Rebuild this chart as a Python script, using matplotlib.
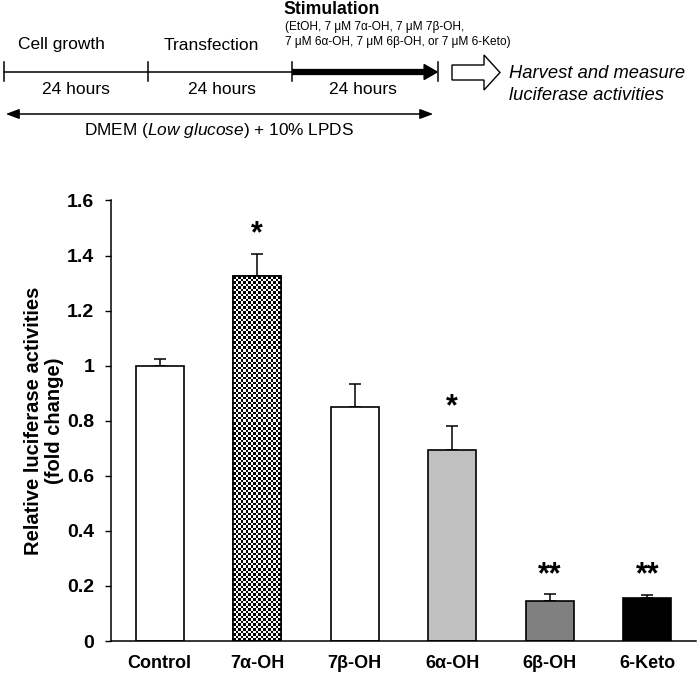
import numpy as np
import matplotlib
matplotlib.use('Agg')
import matplotlib.pyplot as plt
from matplotlib.patches import FancyArrow, FancyArrowPatch

plt.rcParams['font.family'] = ['Liberation Sans', 'DejaVu Sans']
plt.rcParams['mathtext.fontset'] = 'custom'
plt.rcParams['mathtext.rm'] = 'Liberation Sans'
plt.rcParams['mathtext.it'] = 'Liberation Sans:italic'

# data
groups = ['Control', '7\u03b1-OH', '7\u03b2-OH', '6\u03b1-OH', '6\u03b2-OH', '6-Keto']
values = [1.00, 1.325, 0.85, 0.695, 0.147, 0.155]
errors = [0.025, 0.082, 0.085, 0.085, 0.023, 0.013]
stars = ['', '*', '', '*', '**', '**']
fills = ['white', 'checker', 'white', '#c0c0c0', '#808080', 'black']
yticks = [0, 0.2, 0.4, 0.6, 0.8, 1.0, 1.2, 1.4, 1.6]
ytick_labels = ['0', '0.2', '0.4', '0.6', '0.8', '1', '1.2', '1.4', '1.6']

W, H = 697, 677
fig = plt.figure(figsize=(W / 100, H / 100), dpi=100)

# ---- bar chart ----
ax = fig.add_axes([111 / W, (H - 641) / H, 585 / W, 440.5 / H])
x = np.arange(len(groups))
bars = ax.bar(x, values, width=0.49, color=[c if c != 'checker' else 'white' for c in fills],
              edgecolor='black', linewidth=1.2, zorder=2)
ax.errorbar(x, values, yerr=[[0] * len(values), errors], fmt='none', ecolor='black',
            elinewidth=1.1, capsize=4, capthick=1.1, zorder=1)

# checkerboard fill for 7a-OH
for b, f in zip(bars, fills):
    if f == 'checker':
        n = 19
        ny = int(round(n * b.get_height() / 1.6 * 440.5 / (b.get_width() / 6 * 585)))
        board = (np.indices((ny, n)).sum(axis=0) % 2).astype(float)
        im = ax.imshow(board, cmap='gray', interpolation='nearest', aspect='auto',
                       extent=[b.get_x(), b.get_x() + b.get_width(), 0, b.get_height()],
                       zorder=2.5)
        im.set_clip_path(b)
        ax.bar(b.get_x() + b.get_width() / 2, b.get_height(), width=b.get_width(),
               fill=False, edgecolor='black', linewidth=1.2, zorder=3)

for xi, v, e, s in zip(x, values, errors, stars):
    if s:
        ax.annotate(s, (xi, v + e), xytext=(0, 8), textcoords='offset points',
                    ha='center', va='baseline', fontsize=22, fontweight='bold')

ax.set_xlim(-0.5, 5.5)
ax.set_ylim(0, 1.6)
ax.set_yticks(yticks)
ax.set_yticklabels(ytick_labels)
ax.set_xticks(x)
ax.set_xticklabels(groups)
for lab in ax.get_xticklabels():
    lab.set_fontweight('bold')
    lab.set_fontsize(13)
for lab in ax.get_yticklabels():
    lab.set_fontweight('bold')
    lab.set_fontsize(14)
ax.tick_params(axis='x', length=0, pad=10)
ax.tick_params(axis='y', direction='out', length=4, width=1, pad=8)
ax.spines['top'].set_visible(False)
ax.spines['right'].set_visible(False)
ax.spines['left'].set_linewidth(1.1)
ax.spines['bottom'].set_linewidth(1.1)
ax.set_ylabel('Relative luciferase activities\n(fold change)', fontsize=14.5,
              fontweight='bold', linespacing=1.1)
ax.yaxis.set_label_coords(-(111 - 64) / 585, 0.5)

# ---- timeline overlay (pixel coordinates) ----
tl = fig.add_axes([0, 0, 1, 1], facecolor='none')
tl.set_xlim(0, W)
tl.set_ylim(H, 0)
tl.axis('off')

tl.plot([4, 292], [72, 72], color='black', lw=1.1)
tl.plot([292, 426], [72, 72], color='black', lw=4.5, solid_capstyle='butt')
tl.add_patch(FancyArrow(424, 72, 0.1, 0, width=0, head_width=15, head_length=13,
                        length_includes_head=False, color='black'))
for tx in [4, 148, 292, 438]:
    tl.plot([tx, tx], [62, 81], color='black', lw=1.1)

tl.text(61, 45, 'Cell growth', ha='center', va='center', fontsize=12.5)
tl.text(211, 45, 'Transfection', ha='center', va='center', fontsize=12.5)
tl.text(283, 9, 'Stimulation', ha='left', va='center', fontsize=12.7, fontweight='bold')
tl.text(285, 27, '(EtOH, 7 \u03bcM 7\u03b1-OH, 7 \u03bcM 7\u03b2-OH,', ha='left', va='center',
        fontsize=8.6)
tl.text(285, 42, '7 \u03bcM 6\u03b1-OH, 7 \u03bcM 6\u03b2-OH, or 7 \u03bcM 6-Keto)', ha='left',
        va='center', fontsize=8.6)
for cx in [76, 222, 363]:
    tl.text(cx, 89, '24 hours', ha='center', va='center', fontsize=12.5)

tl.add_patch(FancyArrowPatch((3, 114), (436, 114), arrowstyle='<|-|>,head_length=8,head_width=3',
                             color='black', lw=1.1, mutation_scale=1))
tl.text(219, 130, 'DMEM ($\\mathit{Low\\ glucose}$) + 10% LPDS', ha='center',
        va='center', fontsize=12.4)

# hollow arrow
tl.add_patch(FancyArrow(452, 72.5, 32, 0, width=15, head_width=35, head_length=16,
                        length_includes_head=False, facecolor='white', edgecolor='black',
                        lw=1))
tl.text(509, 73, 'Harvest and measure', ha='left', va='center', fontsize=13.2,
        style='italic')
tl.text(509, 96, 'luciferase activities', ha='left', va='center', fontsize=13.2,
        style='italic')

fig.savefig('out.png', dpi=100)
